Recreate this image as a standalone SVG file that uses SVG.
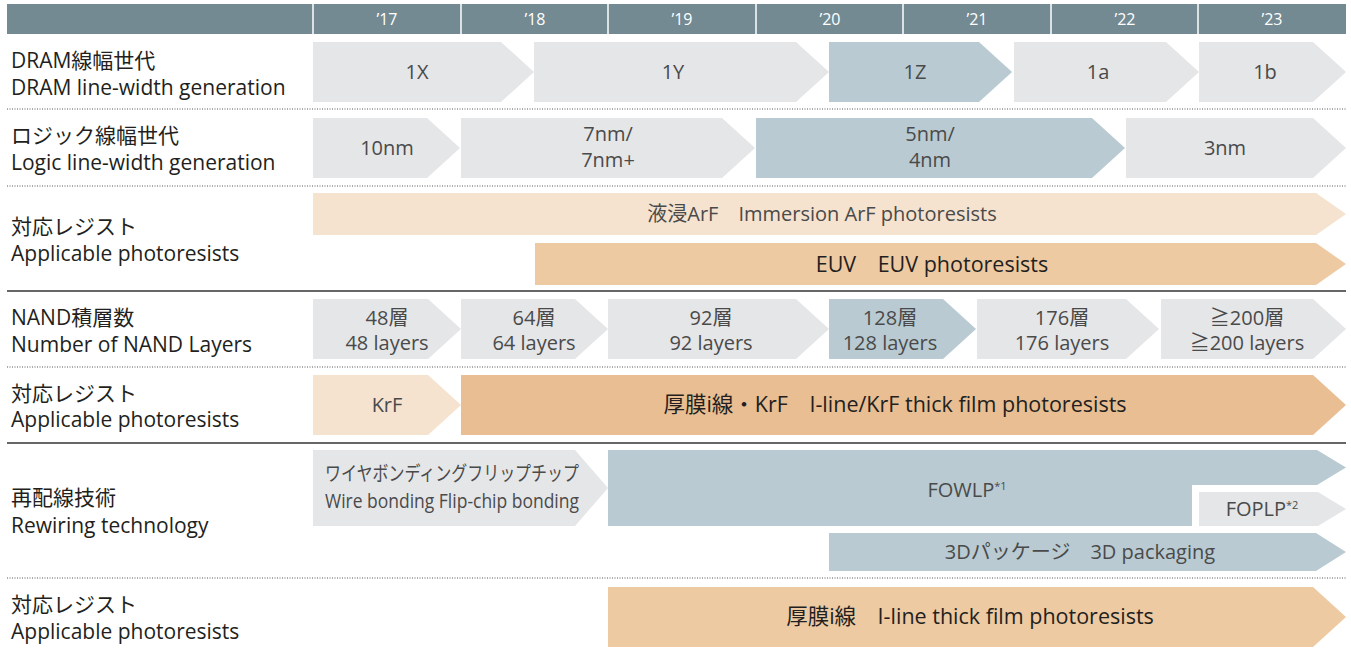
<svg xmlns="http://www.w3.org/2000/svg" width="1351" height="652" viewBox="0 0 1351 652">
<style>
text{font-family:"Open Sans","Noto Sans CJK JP",sans-serif}
.yr{font-size:16px;fill:#fff;text-anchor:middle}
.lbl{font-size:21px;fill:#231f20}
.tx{font-size:20px;fill:#4a4a4a;text-anchor:middle}
.dk{font-size:21.5px;fill:#231f20;text-anchor:middle}
.g{fill:#e5e6e8}.b{fill:#b9cad2}.lb{fill:#f5e3cf}.t{fill:#eecaa3}.t2{fill:#e8be92}
.dot{stroke:#555;stroke-width:1;stroke-dasharray:1 1.5;fill:none}
</style>
<rect width="1351" height="652" fill="#fff"/>
<g id="header">
<rect x="7" y="4" width="1339" height="30" fill="#738a93"/>
<g stroke="#fff" stroke-width="1.5">
<line x1="313" y1="4" x2="313" y2="34"/><line x1="461" y1="4" x2="461" y2="34"/><line x1="608" y1="4" x2="608" y2="34"/><line x1="756" y1="4" x2="756" y2="34"/><line x1="903" y1="4" x2="903" y2="34"/><line x1="1051" y1="4" x2="1051" y2="34"/><line x1="1198" y1="4" x2="1198" y2="34"/>
</g>
<text class="yr" x="387" y="25">’17</text><text class="yr" x="535" y="25">’18</text><text class="yr" x="682" y="25">’19</text><text class="yr" x="830" y="25">’20</text><text class="yr" x="977" y="25">’21</text><text class="yr" x="1125" y="25">’22</text><text class="yr" x="1272" y="25">’23</text>
</g>
<g id="separators">
<line class="dot" x1="7" y1="109" x2="1346" y2="109"/>
<line class="dot" x1="7" y1="186" x2="1346" y2="186"/>
<line x1="7" y1="291" x2="1346" y2="291" stroke="#333" stroke-width="1.5"/>
<line class="dot" x1="7" y1="367" x2="1346" y2="367"/>
<line x1="7" y1="443" x2="1346" y2="443" stroke="#666" stroke-width="2"/>
<line class="dot" x1="7" y1="578" x2="1346" y2="578"/>
</g>
<g id="labels">
<text class="lbl" x="11" y="68">DRAM線幅世代</text><text class="lbl" x="11" y="95">DRAM line-width generation</text>
<text class="lbl" x="11" y="143">ロジック線幅世代</text><text class="lbl" x="11" y="170">Logic line-width generation</text>
<text class="lbl" x="11" y="234">対応レジスト</text><text class="lbl" x="11" y="261">Applicable photoresists</text>
<text class="lbl" x="11" y="325">NAND積層数</text><text class="lbl" x="11" y="352">Number of NAND Layers</text>
<text class="lbl" x="11" y="401">対応レジスト</text><text class="lbl" x="11" y="427">Applicable photoresists</text>
<text class="lbl" x="11" y="505">再配線技術</text><text class="lbl" x="11" y="533">Rewiring technology</text>
<text class="lbl" x="11" y="612">対応レジスト</text><text class="lbl" x="11" y="639">Applicable photoresists</text>
</g>
<g id="dram">
<path class="g" d="M313,42H501L534,72L501,102H313Z"/><text class="tx" x="417" y="79">1X</text>
<path class="g" d="M534,42H796L829,72L796,102H534Z"/><text class="tx" x="673" y="79">1Y</text>
<path class="b" d="M829,42H979L1012,72L979,102H829Z"/><text class="tx" x="915" y="79">1Z</text>
<path class="g" d="M1014,42H1166L1199,72L1166,102H1014Z"/><text class="tx" x="1098" y="79">1a</text>
<path class="g" d="M1199,42H1313L1346,72L1313,102H1199Z"/><text class="tx" x="1265" y="79">1b</text>
</g>
<g id="logic">
<path class="g" d="M313,118H427L460,148L427,178H313Z"/><text class="tx" x="387" y="155">10nm</text>
<path class="g" d="M461,118H722L755,148L722,178H461Z"/><text class="tx" x="608" y="141">7nm/</text><text class="tx" x="608" y="167">7nm+</text>
<path class="b" d="M756,118H1092L1125,148L1092,178H756Z"/><text class="tx" x="930" y="141">5nm/</text><text class="tx" x="930" y="167">4nm</text>
<path class="g" d="M1126,118H1313L1346,148L1313,178H1126Z"/><text class="tx" x="1225" y="155">3nm</text>
</g>
<g id="resist1">
<path class="lb" d="M313,193H1316L1346,214L1316,235H313Z"/><text class="tx" x="822" y="221">液浸ArF　Immersion ArF photoresists</text>
<path class="t" d="M535,243H1316L1346,264L1316,285H535Z"/><text class="dk" x="932" y="272">EUV　EUV photoresists</text>
</g>
<g id="nand">
<path class="g" d="M313,299H428L461,329L428,359H313Z"/><text class="tx" x="387" y="325">48層</text><text class="tx" x="387" y="350">48 layers</text>
<path class="g" d="M461,299H575L608,329L575,359H461Z"/><text class="tx" x="534" y="325">64層</text><text class="tx" x="534" y="350">64 layers</text>
<path class="g" d="M608,299H796L829,329L796,359H608Z"/><text class="tx" x="711" y="325">92層</text><text class="tx" x="711" y="350">92 layers</text>
<path class="b" d="M829,299H943L976,329L943,359H829Z"/><text class="tx" x="890" y="325">128層</text><text class="tx" x="890" y="350">128 layers</text>
<path class="g" d="M977,299H1126L1159,329L1126,359H977Z"/><text class="tx" x="1062" y="325">176層</text><text class="tx" x="1062" y="350">176 layers</text>
<path class="g" d="M1161,299H1313L1346,329L1313,359H1161Z"/><text class="tx" x="1247" y="325">≧200層</text><text class="tx" x="1247" y="350">≧200 layers</text>
</g>
<g id="resist2">
<path class="lb" d="M313,375H428L461,405L428,435H313Z"/><text class="tx" x="387" y="412">KrF</text>
<path class="t2" d="M461,375H1313L1346,405L1313,435H461Z"/><text class="dk" x="895" y="412">厚膜i線・KrF　I-line/KrF thick film photoresists</text>
</g>
<g id="rewiring">
<path class="g" d="M313,450H575L608,488L575,526H313Z"/>
<text class="tx" x="452" y="481" font-size="18" textLength="254" lengthAdjust="spacingAndGlyphs">ワイヤボンディングフリップチップ</text>
<text class="tx" x="452" y="508" font-size="19" textLength="254" lengthAdjust="spacingAndGlyphs">Wire bonding Flip-chip bonding</text>
<path class="b" d="M608,450H1317L1346,467.5L1317,485H1192V526H608Z"/>
<text class="tx" x="967" y="497">FOWLP<tspan font-size="11" dy="-7">*1</tspan></text>
<path class="g" d="M1199,492H1318L1346,509L1318,526H1199Z"/>
<text class="tx" x="1262" y="516">FOPLP<tspan font-size="11" dy="-7">*2</tspan></text>
<path class="b" d="M829,533H1316L1346,552L1316,571H829Z"/>
<text class="tx" x="1080" y="559">3Dパッケージ　3D packaging</text>
</g>
<g id="resist3">
<path class="t" d="M608,587H1313L1346,617L1313,647H608Z"/><text class="dk" x="970" y="624">厚膜i線　I-line thick film photoresists</text>
</g>
</svg>
